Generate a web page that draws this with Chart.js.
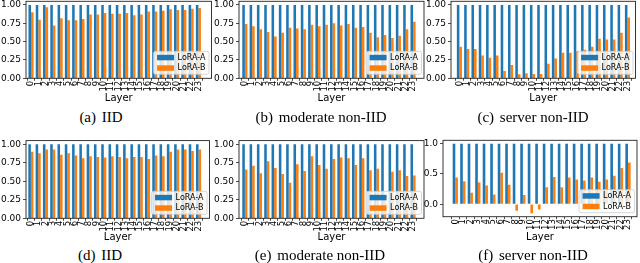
<!DOCTYPE html>
<html><head><meta charset="utf-8">
<script src="https://cdn.jsdelivr.net/npm/chart.js@4/dist/chart.umd.min.js"></script>
<style>
html,body{margin:0;padding:0;background:#fff;}
#fig{position:relative;width:640px;height:263px;overflow:hidden;background:#fff;}
canvas{position:absolute;}
.cap{position:absolute;width:300px;text-align:center;font-family:'Liberation Serif','Times New Roman',serif;font-size:15px;line-height:16px;color:#000;white-space:nowrap;}
.cap .lab{margin-right:2px;}
</style></head><body><div id="fig"></div>
<script>
const layers = ['0','1','2','3','4','5','6','7','8','9','10','11','12','13','14','15','16','17','18','19','20','21','22','23'];
const seriesNames = ['LoRA-A','LoRA-B'];
const loraA = [1.0,1.0,1.0,1.0,1.0,1.0,1.0,1.0,1.0,1.0,1.0,1.0,1.0,1.0,1.0,1.0,1.0,1.0,1.0,1.0,1.0,1.0,1.0,1.0];
const iidTopB = [0.90,0.80,0.97,0.72,0.82,0.79,0.79,0.81,0.87,0.87,0.89,0.88,0.88,0.89,0.86,0.87,0.91,0.91,0.92,0.94,0.93,0.93,0.95,0.96];
const modTopB = [0.74,0.71,0.67,0.63,0.57,0.62,0.69,0.68,0.67,0.73,0.71,0.73,0.75,0.72,0.74,0.69,0.70,0.62,0.56,0.59,0.55,0.58,0.67,0.77];
const srvTopB = [0.43,0.40,0.40,0.31,0.28,0.31,0.10,0.18,0.055,0.07,0.06,0.06,0.20,0.27,0.35,0.35,0.37,0.39,0.43,0.54,0.53,0.53,0.62,0.83];
const iidBotB = [0.90,0.88,0.93,0.93,0.86,0.88,0.85,0.81,0.84,0.83,0.82,0.84,0.83,0.81,0.83,0.83,0.80,0.85,0.84,0.90,0.93,0.93,0.91,0.93];
const modBotB = [0.66,0.71,0.61,0.77,0.68,0.60,0.48,0.73,0.64,0.84,0.72,0.67,0.80,0.82,0.81,0.72,0.81,0.65,0.67,0.30,0.63,0.65,0.57,0.58];
const srvBotB = [0.44,0.38,0.19,0.36,0.31,0.16,0.52,0.32,-0.11,0.15,-0.15,-0.09,0.28,0.45,0.28,0.44,0.41,0.39,0.44,0.37,0.41,0.47,0.60,0.69];
const yTicksStd = [0, 0.25, 0.5, 0.75, 1.0];
const yTicksSrv = [0, 0.5, 1.0];
const captionLabels = ['(a)','(b)','(c)','(d)','(e)','(f)'];
const captionTexts = ['IID','moderate non-IID','server non-IID','IID','moderate non-IID','server non-IID'];
const axisTitle = 'Layer';

// layout: plot rect [L,T,R,B], y-range, layer title center, caption center
const panels = [
  {b:iidTopB, rect:[26,1.3,211.5,78.3], ymin:0, ymax:1.05, yt:yTicksStd, dec:2, xmin:-0.69, xmax:24.8, lay:98, cap:[101,117]},
  {b:modTopB, rect:[239,1.3,424,78.3], ymin:0, ymax:1.05, yt:yTicksStd, dec:2, xmin:-0.8, xmax:24.5, lay:98, cap:[321,117]},
  {b:srvTopB, rect:[451,1.3,635.5,78.3], ymin:0, ymax:1.05, yt:yTicksStd, dec:2, xmin:-1.15, xmax:24.1, lay:98, cap:[533,117]},
  {b:iidBotB, rect:[26,140.6,209.5,218.3], ymin:0, ymax:1.05, yt:yTicksStd, dec:2, xmin:-0.67, xmax:24.5, lay:237, cap:[100,255]},
  {b:modBotB, rect:[239,140.6,424,218.3], ymin:0, ymax:1.05, yt:yTicksStd, dec:2, xmin:-0.8, xmax:24.5, lay:237, cap:[320,255]},
  {b:srvBotB, rect:[443,140.3,637,216.7], ymin:-0.2075, ymax:1.0575, yt:yTicksSrv, dec:1, xmin:-1.64, xmax:24.2, lay:237, cap:[533,255]}
];

const framePlugin = {id:'frame', afterDatasetsDraw(chart){
  const a = chart.chartArea, ctx = chart.ctx;
  ctx.save(); ctx.strokeStyle = '#222'; ctx.lineWidth = 0.9;
  ctx.strokeRect(a.left, a.top, a.right - a.left, a.bottom - a.top);
  ctx.restore();
}};
const legendPlugin = {id:'inlegend', afterDraw(chart){
  const a = chart.chartArea, ctx = chart.ctx, ds = chart.data.datasets;
  ctx.save();
  ctx.font = '8px "DejaVu Sans"';
  const tw = Math.max(...ds.map(d => ctx.measureText(d.label).width));
  const pad = 3.5, pw = 17, ph = 5.5, gap = 3.5, rowH = 10.5;
  const w = pad + pw + gap + tw + pad, h = ds.length * rowH + 2;
  const x = a.right - 2.5 - w, y = a.bottom - 4 - h;
  ctx.beginPath();
  if (ctx.roundRect) ctx.roundRect(x, y, w, h, 2); else ctx.rect(x, y, w, h);
  ctx.fillStyle = 'rgba(255,255,255,0.8)'; ctx.fill();
  ctx.strokeStyle = '#cccccc'; ctx.lineWidth = 0.8; ctx.stroke();
  ds.forEach((d, i) => {
    const cy = y + 1 + rowH * (i + 0.5);
    ctx.fillStyle = d.backgroundColor; ctx.fillRect(x + pad, cy - ph / 2, pw, ph);
    ctx.fillStyle = '#000'; ctx.textBaseline = 'middle'; ctx.textAlign = 'left';
    ctx.fillText(d.label, x + pad + pw + gap, cy);
  });
  ctx.restore();
}};

const fig = document.getElementById('fig');
panels.forEach((p, k) => {
  const [L, T, R, B] = p.rect;
  const yW = 40;
  const cl = Math.floor(L) - yW;
  const ct = Math.floor(T) - 4;
  const cw = Math.ceil(R) + 3 - cl;
  const ch = Math.round(p.lay + 6) - ct;
  const padTop = T - ct, padRight = cw + cl - R, yAxisW = L - cl, xAxisH = ch - (B - ct);
  const c = document.createElement('canvas');
  c.width = cw; c.height = ch; c.style.left = cl + 'px'; c.style.top = ct + 'px';
  c.style.width = cw + 'px'; c.style.height = ch + 'px';
  fig.appendChild(c);
  const cap = document.createElement('div');
  cap.className = 'cap';
  cap.style.left = (p.cap[0] - 150) + 'px'; cap.style.top = (p.cap[1] - 8) + 'px';
  cap.innerHTML = '<span class="lab">' + captionLabels[k] + '</span> ' + captionTexts[k];
  fig.appendChild(cap);
  const mk = (arr) => layers.map((l, i) => ({x: i, y: arr[i]}));
  new Chart(c, {
    type: 'bar',
    data: {datasets: [
      {label: seriesNames[0], data: mk(loraA), backgroundColor: '#1f77b4', categoryPercentage: 0.7, barPercentage: 1.0},
      {label: seriesNames[1], data: mk(p.b), backgroundColor: '#ff7f0e', categoryPercentage: 0.7, barPercentage: 1.0}
    ]},
    options: {
      responsive: false, animation: false, devicePixelRatio: 1,
      layout: {padding: {left: 0, top: padTop, right: padRight, bottom: 0}},
      plugins: {legend: {display: false}, tooltip: {enabled: false}},
      scales: {
        x: {type: 'linear', min: p.xmin, max: p.xmax, offset: false,
          afterBuildTicks: s => { s.ticks = layers.map((l, i) => ({value: i})); },
          afterFit: s => { s.height = xAxisH; s.paddingLeft = 0; s.paddingRight = 0; },
          ticks: {autoSkip: false, maxRotation: 90, minRotation: 90, padding: 0, color: '#000',
            font: {family: 'DejaVu Sans', size: 8.5}, callback: v => layers[v]},
          grid: {display: true, drawOnChartArea: false, drawTicks: true, tickLength: 2.5, tickColor: '#222', lineWidth: 0.8},
          border: {display: false},
          title: {display: true, text: axisTitle, color: '#000', padding: 0, font: {family: 'DejaVu Sans', size: 10}}
        },
        y: {type: 'linear', min: p.ymin, max: p.ymax,
          afterBuildTicks: s => { s.ticks = p.yt.map(v => ({value: v})); },
          afterFit: s => { s.width = yAxisW; s.paddingTop = 0; s.paddingBottom = 0; },
          ticks: {padding: 2, color: '#000', font: {family: 'DejaVu Sans', size: 9}, callback: v => v.toFixed(p.dec)},
          grid: {display: true, drawOnChartArea: false, drawTicks: true, tickLength: 3, tickColor: '#222', lineWidth: 0.8},
          border: {display: false}
        }
      }
    },
    plugins: [framePlugin, legendPlugin]
  });
});
</script></body></html>
